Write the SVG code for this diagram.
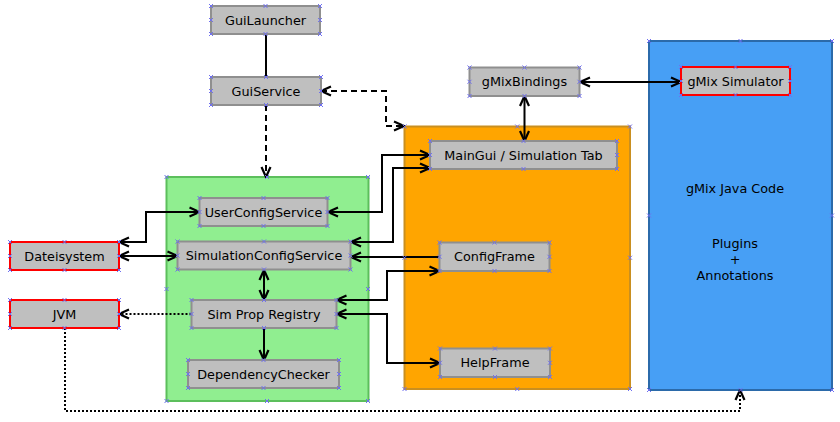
<svg xmlns="http://www.w3.org/2000/svg" xmlns:xlink="http://www.w3.org/1999/xlink" width="840" height="422" viewBox="0 0 840 422">
<style>
.box{fill:#bfbfbf;stroke:#8f8f8f;stroke-width:2}
.ext{fill:#bfbfbf;stroke:#ff0000;stroke-width:2}
.lbl{font-family:"DejaVu Sans","Liberation Sans",sans-serif;font-size:12.8px;fill:#000;text-anchor:middle}
.c{fill:none;stroke:#000;stroke-width:2}
.dash{stroke-dasharray:6,4}
.dot{stroke-dasharray:2,2}
.pt{fill:none;stroke:#6f6ff0;stroke-width:1}
</style>
<defs>
<marker id="ah" viewBox="0 0 12 12" refX="11" refY="6" markerWidth="12" markerHeight="12" markerUnits="userSpaceOnUse" orient="auto-start-reverse">
<path d="M1,1.5 L11,6 L1,10.5" fill="none" stroke="#000" stroke-width="2.2" stroke-dasharray="none"/>
</marker>
<path id="x" class="pt" d="M-2,-2 L2,2 M-2,2 L2,-2"/>
</defs>
<rect width="840" height="422" fill="#fff"/>

<g id="container-green"><rect x="166.5" y="177" width="202" height="224" fill="#90ee90" stroke="#5cbf5c" stroke-width="2"/></g>
<g id="container-orange"><rect x="404.5" y="126.5" width="225.5" height="262.5" fill="#ffa500" stroke="#c98f20" stroke-width="2"/></g>
<g id="container-blue"><rect x="649" y="41" width="183" height="349" fill="#479ff5" stroke="#2b6aaa" stroke-width="2"/>
<text class="lbl" x="735" y="193">gMix Java Code</text>
<text class="lbl" x="735" y="248">Plugins</text>
<text class="lbl" x="735" y="264">+</text>
<text class="lbl" x="735" y="280">Annotations</text></g>

<g id="connectors">
<path class="c" d="M266,34 V77"/>
<path class="c dash" d="M266,105 V177" marker-end="url(#ah)"/>
<path class="c dash" d="M321,91 H386 V126 H404" marker-start="url(#ah)" marker-end="url(#ah)"/>
<path class="c" d="M580,82 H681" marker-start="url(#ah)" marker-end="url(#ah)"/>
<path class="c" d="M524.5,96 V141" marker-start="url(#ah)" marker-end="url(#ah)"/>
<path class="c" d="M328,212 H382 V155 H430" marker-start="url(#ah)" marker-end="url(#ah)"/>
<path class="c" d="M351,242 H393 V168 H430" marker-start="url(#ah)" marker-end="url(#ah)"/>
<path class="c" d="M439.5,257 H351" marker-end="url(#ah)"/>
<path class="c" d="M336.5,300 H387 V271 H439.5" marker-start="url(#ah)" marker-end="url(#ah)"/>
<path class="c" d="M336.5,314 H387 V363 H440" marker-start="url(#ah)" marker-end="url(#ah)"/>
<path class="c" d="M119,242 H146 V212 H199.5" marker-start="url(#ah)" marker-end="url(#ah)"/>
<path class="c" d="M119,256 H177.5" marker-start="url(#ah)" marker-end="url(#ah)"/>
<path class="c" d="M264,270 V300" marker-start="url(#ah)" marker-end="url(#ah)"/>
<path class="c dot" d="M191.5,314 H119" marker-end="url(#ah)"/>
<path class="c" d="M264,328 V360" marker-end="url(#ah)"/>
<path class="c dot" d="M65,328 V411 H740 V390" marker-end="url(#ah)"/>
</g>

<g id="GuiLauncher"><rect class="box" x="211" y="6" width="109" height="28"/><text class="lbl" x="265.5" y="24.6">GuiLauncher</text></g>
<g id="GuiService"><rect class="box" x="211" y="77" width="110" height="28"/><text class="lbl" x="266" y="95.6">GuiService</text></g>
<g id="UserConfigService"><rect class="box" x="199.5" y="198" width="128" height="28"/><text class="lbl" x="263.5" y="216.6">UserConfigService</text></g>
<g id="SimulationConfigService"><rect class="box" x="177.5" y="241.5" width="173" height="28"/><text class="lbl" x="264" y="260.1">SimulationConfigService</text></g>
<g id="SimPropRegistry"><rect class="box" x="191.5" y="300" width="145" height="28"/><text class="lbl" x="264" y="318.6">Sim Prop Registry</text></g>
<g id="DependencyChecker"><rect class="box" x="188" y="360" width="151" height="28"/><text class="lbl" x="263.5" y="378.6">DependencyChecker</text></g>
<g id="Dateisystem"><rect class="ext" x="10" y="242" width="109" height="28"/><text class="lbl" x="64.5" y="260.6">Dateisystem</text></g>
<g id="JVM"><rect class="ext" x="10" y="300" width="109" height="28"/><text class="lbl" x="64.5" y="318.6">JVM</text></g>
<g id="gMixBindings"><rect class="box" x="469.5" y="67.5" width="110" height="28.5"/><text class="lbl" x="524.5" y="86.4">gMixBindings</text></g>
<g id="gMixSimulator"><rect class="ext" x="681" y="67" width="109" height="28"/><text class="lbl" x="735.5" y="85.6">gMix Simulator</text></g>
<g id="MainGui"><rect class="box" x="430" y="141" width="187" height="28"/><text class="lbl" x="523.5" y="159.6">MainGui / Simulation Tab</text></g>
<g id="ConfigFrame"><rect class="box" x="439.5" y="242.5" width="110" height="28.5"/><text class="lbl" x="494.5" y="261.4">ConfigFrame</text></g>
<g id="HelpFrame"><rect class="box" x="440" y="348.5" width="110" height="28.5"/><text class="lbl" x="495" y="367.4">HelpFrame</text></g>

<g id="connection-points">
<use href="#x" x="211" y="6"/><use href="#x" x="265.5" y="6"/><use href="#x" x="320" y="6"/><use href="#x" x="211" y="20"/><use href="#x" x="320" y="20"/><use href="#x" x="211" y="34"/><use href="#x" x="265.5" y="34"/><use href="#x" x="320" y="34"/>
<use href="#x" x="211" y="77"/><use href="#x" x="266" y="77"/><use href="#x" x="321" y="77"/><use href="#x" x="211" y="91"/><use href="#x" x="321" y="91"/><use href="#x" x="211" y="105"/><use href="#x" x="266" y="105"/><use href="#x" x="321" y="105"/>
<use href="#x" x="199.5" y="198"/><use href="#x" x="263.5" y="198"/><use href="#x" x="327.5" y="198"/><use href="#x" x="199.5" y="212"/><use href="#x" x="327.5" y="212"/><use href="#x" x="199.5" y="226"/><use href="#x" x="263.5" y="226"/><use href="#x" x="327.5" y="226"/>
<use href="#x" x="177.5" y="241.5"/><use href="#x" x="264" y="241.5"/><use href="#x" x="350.5" y="241.5"/><use href="#x" x="177.5" y="255.5"/><use href="#x" x="350.5" y="255.5"/><use href="#x" x="177.5" y="269.5"/><use href="#x" x="264" y="269.5"/><use href="#x" x="350.5" y="269.5"/>
<use href="#x" x="191.5" y="300"/><use href="#x" x="264" y="300"/><use href="#x" x="336.5" y="300"/><use href="#x" x="191.5" y="314"/><use href="#x" x="336.5" y="314"/><use href="#x" x="191.5" y="328"/><use href="#x" x="264" y="328"/><use href="#x" x="336.5" y="328"/>
<use href="#x" x="188" y="360"/><use href="#x" x="263.5" y="360"/><use href="#x" x="339" y="360"/><use href="#x" x="188" y="374"/><use href="#x" x="339" y="374"/><use href="#x" x="188" y="388"/><use href="#x" x="263.5" y="388"/><use href="#x" x="339" y="388"/>
<use href="#x" x="10" y="242"/><use href="#x" x="64.5" y="242"/><use href="#x" x="119" y="242"/><use href="#x" x="10" y="256"/><use href="#x" x="119" y="256"/><use href="#x" x="10" y="270"/><use href="#x" x="64.5" y="270"/><use href="#x" x="119" y="270"/>
<use href="#x" x="10" y="300"/><use href="#x" x="64.5" y="300"/><use href="#x" x="119" y="300"/><use href="#x" x="10" y="314"/><use href="#x" x="119" y="314"/><use href="#x" x="10" y="328"/><use href="#x" x="64.5" y="328"/><use href="#x" x="119" y="328"/>
<use href="#x" x="469.5" y="67.5"/><use href="#x" x="524.5" y="67.5"/><use href="#x" x="579.5" y="67.5"/><use href="#x" x="469.5" y="81.75"/><use href="#x" x="579.5" y="81.75"/><use href="#x" x="469.5" y="96"/><use href="#x" x="524.5" y="96"/><use href="#x" x="579.5" y="96"/>
<use href="#x" x="681" y="67"/><use href="#x" x="735.5" y="67"/><use href="#x" x="790" y="67"/><use href="#x" x="681" y="81"/><use href="#x" x="790" y="81"/><use href="#x" x="681" y="95"/><use href="#x" x="735.5" y="95"/><use href="#x" x="790" y="95"/>
<use href="#x" x="430" y="141"/><use href="#x" x="523.5" y="141"/><use href="#x" x="617" y="141"/><use href="#x" x="430" y="155"/><use href="#x" x="617" y="155"/><use href="#x" x="430" y="169"/><use href="#x" x="523.5" y="169"/><use href="#x" x="617" y="169"/>
<use href="#x" x="439.5" y="242.5"/><use href="#x" x="494.5" y="242.5"/><use href="#x" x="549.5" y="242.5"/><use href="#x" x="439.5" y="256.75"/><use href="#x" x="549.5" y="256.75"/><use href="#x" x="439.5" y="271"/><use href="#x" x="494.5" y="271"/><use href="#x" x="549.5" y="271"/>
<use href="#x" x="440" y="348.5"/><use href="#x" x="495" y="348.5"/><use href="#x" x="550" y="348.5"/><use href="#x" x="440" y="362.75"/><use href="#x" x="550" y="362.75"/><use href="#x" x="440" y="377"/><use href="#x" x="495" y="377"/><use href="#x" x="550" y="377"/>
<use href="#x" x="166.5" y="177"/><use href="#x" x="267" y="177"/><use href="#x" x="368" y="177"/><use href="#x" x="166.5" y="289"/><use href="#x" x="368" y="289"/><use href="#x" x="166.5" y="401"/><use href="#x" x="267" y="401"/><use href="#x" x="368" y="401"/>
<use href="#x" x="404.5" y="126.5"/><use href="#x" x="517.25" y="126.5"/><use href="#x" x="630" y="126.5"/><use href="#x" x="404.5" y="257.75"/><use href="#x" x="630" y="257.75"/><use href="#x" x="404.5" y="389"/><use href="#x" x="517.25" y="389"/><use href="#x" x="630" y="389"/>
<use href="#x" x="649" y="41"/><use href="#x" x="740.5" y="41"/><use href="#x" x="832" y="41"/><use href="#x" x="649" y="215.5"/><use href="#x" x="832" y="215.5"/><use href="#x" x="649" y="390"/><use href="#x" x="740.5" y="390"/><use href="#x" x="832" y="390"/>
</g>
</svg>
